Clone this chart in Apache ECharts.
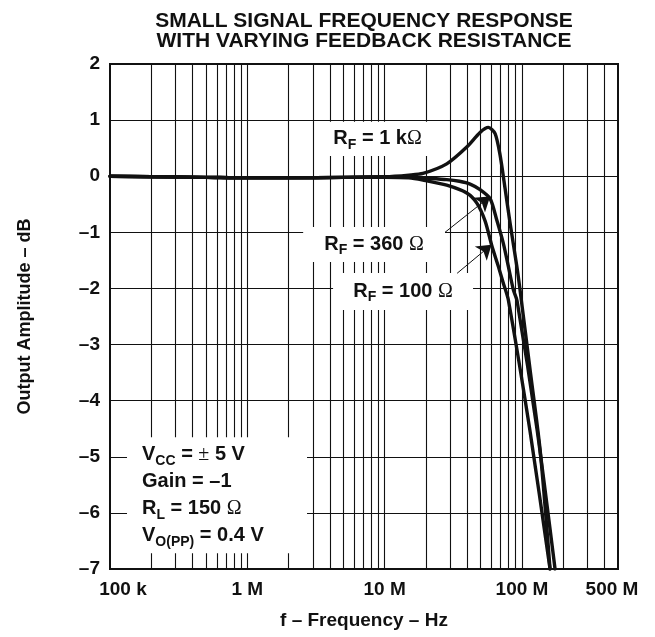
<!DOCTYPE html>
<html>
<head>
<meta charset="utf-8">
<script src="https://cdn.jsdelivr.net/npm/echarts@6/dist/echarts.min.js"></script>
<style>
  html, body { margin: 0; padding: 0; background: #fff; }
  #chart { width: 655px; height: 637px; }
</style>
</head>
<body>
<div id="chart"></div>
<script>
// Frequency axis (Hz) tick values and their labels
const freqTicks = [1e5, 1e6, 1e7, 1e8, 5e8];
const freqTickLabels = ['100 k', '1 M', '10 M', '100 M', '500 M'];
// Vertical grid lines: decades plus the 2..9 lines inside each decade
const freqGridLines = [
  2e5, 3e5, 4e5, 5e5, 6e5, 7e5, 8e5, 9e5, 1e6,
  2e6, 3e6, 4e6, 5e6, 6e6, 7e6, 8e6, 9e6, 1e7,
  2e7, 3e7, 4e7, 5e7, 6e7, 7e7, 8e7, 9e7, 1e8,
  2e8, 3e8, 4e8
];
// Horizontal grid lines (dB)
const ampGridLines = [1, 0, -1, -2, -3, -4, -5, -6];

// Output amplitude (dB) versus frequency (Hz) for each feedback resistor
const rf1k = [
  [1e5, 0], [2e5, -0.01], [5e5, -0.02], [1e6, -0.03], [2e6, -0.03], [5e6, -0.02],
  [1e7, -0.01], [1.5e7, 0.02], [1.9e7, 0.05], [2.83e7, 0.22], [3.96e7, 0.52],
  [4.95e7, 0.78], [5.69e7, 0.87], [6.37e7, 0.76], [6.92e7, 0.38], [7.53e7, -0.22],
  [8.19e7, -0.84], [9.16e7, -1.6], [9.68e7, -2.03], [1.145e8, -3.45],
  [1.355e8, -4.88], [1.6e8, -7]
];
const rf360 = [
  [1e5, 0], [2e5, -0.01], [5e5, -0.02], [1e6, -0.03], [2e6, -0.03], [5e6, -0.02],
  [1e7, -0.01], [1.5e7, -0.01], [1.9e7, -0.03], [2.83e7, -0.06], [3.5e7, -0.09],
  [4.19e7, -0.14], [4.95e7, -0.24], [5.86e7, -0.4], [6.55e7, -0.78], [7.32e7, -1.2],
  [7.96e7, -1.61], [8.66e7, -2.03], [9.2e7, -2.22], [1.288e8, -4.52], [1.74e8, -7]
];
const rf100 = [
  [1e5, 0], [2e5, -0.01], [5e5, -0.02], [1e6, -0.03], [2e6, -0.03], [5e6, -0.02],
  [1e7, -0.02], [1.5e7, -0.03], [1.9e7, -0.07], [2.83e7, -0.16], [3.96e7, -0.3],
  [4.69e7, -0.48], [5.39e7, -0.8], [6.03e7, -1.24], [6.73e7, -1.61], [7.32e7, -1.91],
  [7.96e7, -2.21], [1.14e8, -4.52], [1.6e8, -7]
];

const FONT = '"Liberation Sans", Arial, Helvetica, sans-serif';
const SYM = '"Liberation Serif", "DejaVu Serif", serif';
const INK = '#111';

const rich = {
  b: { fontFamily: FONT, fontWeight: 'bold', fontSize: 20, color: INK },
  s: { fontFamily: FONT, fontWeight: 'bold', fontSize: 14, color: INK, padding: [12, 0, 0, 0] },
  g: { fontFamily: SYM, fontSize: 20, color: INK }
};

function tickLabel(v) {
  let best = 0, bestD = Infinity;
  freqTicks.forEach((t, i) => {
    const d = Math.abs(Math.log10(v) - Math.log10(t));
    if (d < bestD) { bestD = d; best = i; }
  });
  if (bestD > 0.01) return '';
  if (best === 0) return '{first|' + freqTickLabels[0] + '}';
  if (best === freqTicks.length - 1) return '{last|' + freqTickLabels[best] + '}';
  return freqTickLabels[best];
}

function curve(name, data) {
  return {
    name, type: 'line', data, z: 4,
    showSymbol: false, smooth: 0.25,
    lineStyle: { color: INK, width: 3.4, join: 'round', cap: 'round' },
    silent: true, animation: false
  };
}

const chart = echarts.init(document.getElementById('chart'), null, { renderer: 'canvas' });

chart.setOption({
  backgroundColor: '#fff',
  animation: false,
  title: {
    text: 'SMALL SIGNAL FREQUENCY RESPONSE\nWITH VARYING FEEDBACK RESISTANCE',
    left: 359, top: 6, textAlign: 'center',
    textStyle: { fontFamily: FONT, fontWeight: 'bold', fontSize: 21, lineHeight: 20, color: INK }
  },
  grid: {
    left: 110, top: 64, right: 37, bottom: 68,
    show: true, borderColor: INK, borderWidth: 2, backgroundColor: 'transparent'
  },
  xAxis: {
    type: 'log', logBase: 10, min: 1e5, max: 5e8,
    name: 'f \u2013 Frequency \u2013 Hz', nameLocation: 'middle', nameGap: 42,
    nameTextStyle: { fontFamily: FONT, fontWeight: 'bold', fontSize: 19, color: INK },
    axisLine: { show: false }, axisTick: { show: false },
    axisLabel: {
      formatter: tickLabel, margin: 11, showMaxLabel: true, showMinLabel: true,
      fontFamily: FONT, fontWeight: 'bold', fontSize: 19, color: INK,
      rich: {
        first: { fontFamily: FONT, fontWeight: 'bold', fontSize: 19, color: INK, padding: [0, 0, 0, 26] },
        last: { fontFamily: FONT, fontWeight: 'bold', fontSize: 19, color: INK, padding: [0, 12, 0, 0] }
      }
    },
    splitLine: { show: false }
  },
  yAxis: {
    type: 'value', min: -7, max: 2, interval: 1,
    name: 'Output Amplitude \u2013 dB', nameLocation: 'middle', nameGap: 76,
    nameTextStyle: { fontFamily: FONT, fontWeight: 'bold', fontSize: 18, color: INK },
    axisLine: { show: false }, axisTick: { show: false },
    axisLabel: {
      margin: 10, fontFamily: FONT, fontWeight: 'bold', fontSize: 19, color: INK,
      formatter: v => (v < 0 ? '\u2013' + (-v) : String(v))
    },
    splitLine: { show: false }
  },
  series: [
    {
      // logarithmic grid, drawn as series lines so the label boxes can mask it
      name: 'grid', type: 'line', data: [], z: 1, silent: true,
      markLine: {
        z: 1, silent: true, symbol: 'none', animation: false, precision: 10,
        label: { show: false },
        lineStyle: { color: INK, width: 1.1, type: 'solid' },
        data: freqGridLines.map(f => ({ xAxis: f }))
          .concat(ampGridLines.map(v => ({ yAxis: v })))
      }
    },
    {
      // white label boxes that mask the grid behind the text
      name: 'labels', type: 'line', data: [], z: 3, silent: true,
      markArea: {
        z: 3, silent: true, animation: false,
        itemStyle: { color: '#fff', opacity: 1 },
        label: { show: true, position: 'inside', rich: rich, color: INK },
        data: [
          [{ coord: [3.27e6, 0.97], label: { formatter: '{b|R}{s|F}{b| = 1 k}{g|\u03A9}' } },
           { coord: [2.41e7, 0.36] }],
          [{ coord: [2.55e6, -0.905], label: { formatter: '{b|R}{s|F}{b| = 360 }{g|\u03A9}' } },
           { coord: [2.75e7, -1.53] }],
          [{ coord: [4.21e6, -1.725], label: { formatter: '{b|R}{s|F}{b| = 100 }{g|\u03A9}' } },
           { coord: [4.4e7, -2.385] }],
          [{ coord: [1.33e5, -4.65], label: {
              position: 'insideLeft', distance: 15, lineHeight: 27,
              formatter: [
                '{b|V}{s|CC}{b| = }{g|\u00B1}{b| 5 V}',
                '{b|Gain = \u20131}',
                '{b|R}{s|L}{b| = 150 }{g|\u03A9}',
                '{b|V}{s|O(PP)}{b| = 0.4 V}'
              ].join('\n') } },
           { coord: [2.72e6, -6.72] }]
        ]
      }
    },
    curve('RF = 1 k\u03A9', rf1k),
    curve('RF = 360 \u03A9', rf360),
    curve('RF = 100 \u03A9', rf100),
    {
      // pointer arrows from the labels to their curves
      name: 'arrows', type: 'line', data: [], z: 6, silent: true,
      markLine: {
        z: 6, silent: true, animation: false,
        symbol: ['none', 'arrow'], symbolSize: 14,
        label: { show: false },
        lineStyle: { color: INK, width: 1, type: 'solid' },
        itemStyle: { color: INK },
        data: [
          [{ coord: [2.75e7, -1.0] }, { coord: [5.86e7, -0.36] }],
          [{ coord: [3.37e7, -1.73] }, { coord: [6.0e7, -1.22] }]
        ]
      }
    }
  ]
});
</script>
</body>
</html>
